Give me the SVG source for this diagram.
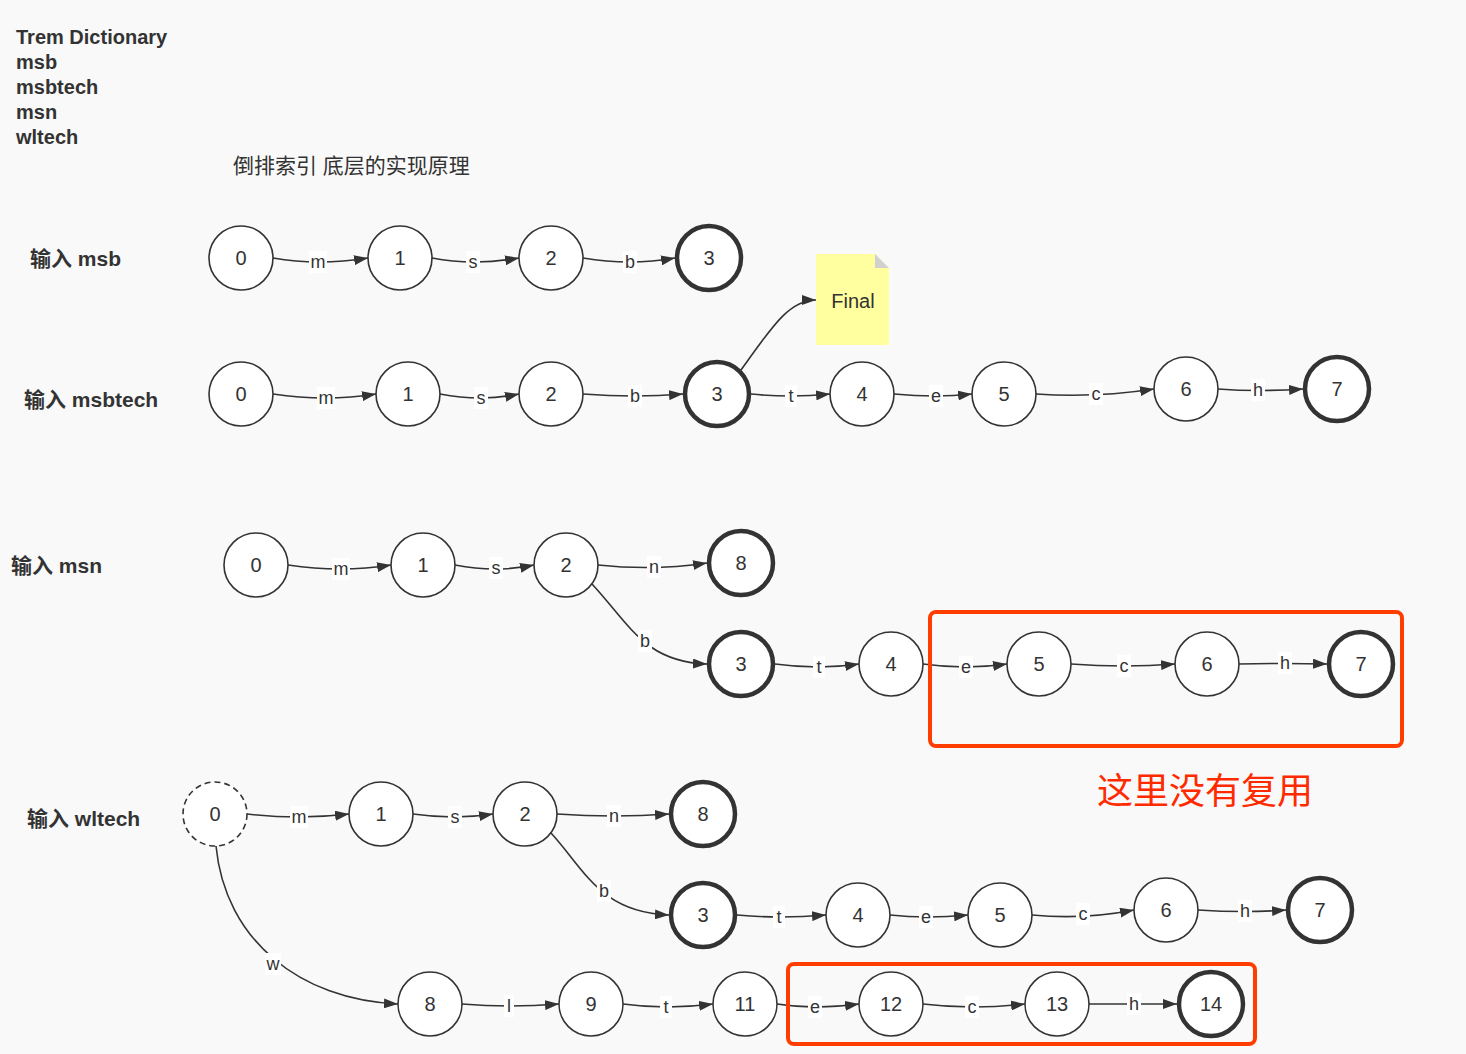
<svg xmlns="http://www.w3.org/2000/svg" width="1466" height="1054" viewBox="0 0 1466 1054">
<style>
.hd{font-family:"Liberation Sans","Noto Sans CJK SC",sans-serif;font-weight:bold;font-size:20px;fill:#333}
.in{font-family:"Liberation Sans","Noto Sans CJK SC",sans-serif;font-weight:bold;font-size:21px;fill:#333}
.sub{font-family:"Liberation Sans","Noto Sans CJK SC",sans-serif;font-size:21px;fill:#333}
.n circle{fill:#fff;stroke:#333;stroke-width:1.6}
.n.f circle{stroke-width:4.5}
.n.d circle{stroke-dasharray:6 4}
.n text{font-family:"Liberation Sans",Arial,sans-serif;font-size:20px;fill:#333;text-anchor:middle;dominant-baseline:central}
.e path{fill:none;stroke:#333;stroke-width:1.6;marker-end:url(#ah)}
.e rect{fill:#fff}
.e text{font-family:"Liberation Sans",Arial,sans-serif;font-size:18px;fill:#333;text-anchor:middle;dominant-baseline:central}
.box{fill:none;stroke:#ff3d00;stroke-width:4}
.red{font-family:"Noto Sans CJK SC",sans-serif;font-size:36px;fill:#ff2a00;text-anchor:middle;dominant-baseline:central}
</style>
<defs>
<marker id="ah" viewBox="0 0 14 10" refX="14" refY="5" markerWidth="14" markerHeight="10" markerUnits="userSpaceOnUse" orient="auto">
<path d="M0,0 L14,5 L0,10 z" fill="#333"/>
</marker>
</defs>
<rect width="1466" height="1054" fill="#f9f9f9"/>
<g id="header">
<text class="hd" x="16" y="44">Trem Dictionary</text>
<text class="hd" x="16" y="69">msb</text>
<text class="hd" x="16" y="94">msbtech</text>
<text class="hd" x="16" y="119">msn</text>
<text class="hd" x="16" y="144">wltech</text>
<text class="sub" x="233" y="173">倒排索引 底层的实现原理</text>
<text class="in" x="30" y="266">输入 msb</text>
<text class="in" x="24" y="407">输入 msbtech</text>
<text class="in" x="11" y="573">输入 msn</text>
<text class="in" x="27" y="826">输入 wltech</text>
</g>
<g id="connectors">
<g class="e">
<path d="M273,258 Q318,266 368,258"/>
<path d="M432,258 Q473,266 519,258"/>
<path d="M583,258 Q630,266 675,258"/>
<path d="M273,394 Q326,402 376,394"/>
<path d="M440,394 Q481,402 519,394"/>
<path d="M583,394 Q635,398 683,394"/>
<path d="M751,394 Q791,398 830,394"/>
<path d="M894,394 Q936,398 972,394"/>
<path d="M1036,394 Q1096,398 1154,389"/>
<path d="M1218,389 Q1258,392 1303,389"/>
<path d="M741,370 C770,330 788,300 816,300"/>
<path d="M288,565 Q341,573 391,565"/>
<path d="M455,565 Q496,573 534,565"/>
<path d="M598,565 Q654,571 707,563"/>
<path d="M592,584 C630,625 645,662 707,664"/>
<path d="M775,664 Q819,670 859,664"/>
<path d="M923,664 Q966,670 1007,664"/>
<path d="M1071,664 Q1124,668 1175,664"/>
<path d="M1239,664 Q1285,663 1327,664"/>
<path d="M247,814 Q299,820 349,814"/>
<path d="M413,814 Q455,820 493,814"/>
<path d="M557,814 Q614,818 669,814"/>
<path d="M551,833 C585,870 600,912 669,915"/>
<path d="M737,915 Q779,919 826,915"/>
<path d="M890,915 Q926,919 968,915"/>
<path d="M1032,915 Q1083,920 1134,910"/>
<path d="M1198,910 Q1245,913 1286,910"/>
<path d="M216,846 C225,940 300,1000 398,1004"/>
<path d="M462,1004 Q509,1008 559,1004"/>
<path d="M623,1004 Q666,1010 713,1004"/>
<path d="M777,1004 Q815,1010 859,1004"/>
<path d="M923,1004 Q972,1010 1025,1004"/>
<path d="M1089,1004 Q1134,1004 1177,1004"/>
</g>
<g class="e">
<rect x="309" y="251" width="18" height="22"/><text x="318" y="262">m</text>
<rect x="466" y="251" width="14" height="22"/><text x="473" y="262">s</text>
<rect x="623" y="251" width="14" height="22"/><text x="630" y="262">b</text>
<rect x="317" y="387" width="18" height="22"/><text x="326" y="398">m</text>
<rect x="474" y="387" width="14" height="22"/><text x="481" y="398">s</text>
<rect x="628" y="385" width="14" height="22"/><text x="635" y="396">b</text>
<rect x="785" y="385" width="12" height="22"/><text x="791" y="396">t</text>
<rect x="929" y="385" width="14" height="22"/><text x="936" y="396">e</text>
<rect x="1089" y="383" width="14" height="22"/><text x="1096" y="394">c</text>
<rect x="1251" y="379" width="14" height="22"/><text x="1258" y="390">h</text>
<rect x="332" y="558" width="18" height="22"/><text x="341" y="569">m</text>
<rect x="489" y="557" width="14" height="22"/><text x="496" y="568">s</text>
<rect x="647" y="556" width="14" height="22"/><text x="654" y="567">n</text>
<rect x="638" y="630" width="14" height="22"/><text x="645" y="641">b</text>
<rect x="813" y="656" width="12" height="22"/><text x="819" y="667">t</text>
<rect x="959" y="656" width="14" height="22"/><text x="966" y="667">e</text>
<rect x="1117" y="655" width="14" height="22"/><text x="1124" y="666">c</text>
<rect x="1278" y="652" width="14" height="22"/><text x="1285" y="663">h</text>
<rect x="290" y="806" width="18" height="22"/><text x="299" y="817">m</text>
<rect x="448" y="806" width="14" height="22"/><text x="455" y="817">s</text>
<rect x="607" y="805" width="14" height="22"/><text x="614" y="816">n</text>
<rect x="597" y="880" width="14" height="22"/><text x="604" y="891">b</text>
<rect x="773" y="906" width="12" height="22"/><text x="779" y="917">t</text>
<rect x="919" y="906" width="14" height="22"/><text x="926" y="917">e</text>
<rect x="1076" y="903" width="14" height="22"/><text x="1083" y="914">c</text>
<rect x="1238" y="900" width="14" height="22"/><text x="1245" y="911">h</text>
<rect x="265" y="953" width="16" height="22"/><text x="273" y="964">w</text>
<rect x="504" y="995" width="10" height="22"/><text x="509" y="1006">l</text>
<rect x="660" y="996" width="12" height="22"/><text x="666" y="1007">t</text>
<rect x="808" y="996" width="14" height="22"/><text x="815" y="1007">e</text>
<rect x="965" y="996" width="14" height="22"/><text x="972" y="1007">c</text>
<rect x="1127" y="993" width="14" height="22"/><text x="1134" y="1004">h</text>
</g>
</g>
<g id="r1n0" class="n"><circle cx="241" cy="258" r="32"/><text x="241" y="258">0</text></g>
<g id="r1n1" class="n"><circle cx="400" cy="258" r="32"/><text x="400" y="258">1</text></g>
<g id="r1n2" class="n"><circle cx="551" cy="258" r="32"/><text x="551" y="258">2</text></g>
<g id="r1n3" class="n f"><circle cx="709" cy="258" r="32"/><text x="709" y="258">3</text></g>
<g id="r2n0" class="n"><circle cx="241" cy="394" r="32"/><text x="241" y="394">0</text></g>
<g id="r2n1" class="n"><circle cx="408" cy="394" r="32"/><text x="408" y="394">1</text></g>
<g id="r2n2" class="n"><circle cx="551" cy="394" r="32"/><text x="551" y="394">2</text></g>
<g id="r2n3" class="n f"><circle cx="717" cy="394" r="32"/><text x="717" y="394">3</text></g>
<g id="r2n4" class="n"><circle cx="862" cy="394" r="32"/><text x="862" y="394">4</text></g>
<g id="r2n5" class="n"><circle cx="1004" cy="394" r="32"/><text x="1004" y="394">5</text></g>
<g id="r2n6" class="n"><circle cx="1186" cy="389" r="32"/><text x="1186" y="389">6</text></g>
<g id="r2n7" class="n f"><circle cx="1337" cy="389" r="32"/><text x="1337" y="389">7</text></g>
<g id="note-final">
<path d="M816,254 L875,254 L889,268 L889,345 L816,345 z" fill="#ffffa0"/>
<path d="M875,254 L889,268 L875,268 z" fill="#d0d0d0"/>
<text x="853" y="301" font-family="Liberation Sans,Arial,sans-serif" font-size="20" fill="#333" text-anchor="middle" dominant-baseline="central">Final</text>
</g>
<g id="r3n0" class="n"><circle cx="256" cy="565" r="32"/><text x="256" y="565">0</text></g>
<g id="r3n1" class="n"><circle cx="423" cy="565" r="32"/><text x="423" y="565">1</text></g>
<g id="r3n2" class="n"><circle cx="566" cy="565" r="32"/><text x="566" y="565">2</text></g>
<g id="r3n8" class="n f"><circle cx="741" cy="563" r="32"/><text x="741" y="563">8</text></g>
<g id="r3n3" class="n f"><circle cx="741" cy="664" r="32"/><text x="741" y="664">3</text></g>
<g id="r3n4" class="n"><circle cx="891" cy="664" r="32"/><text x="891" y="664">4</text></g>
<g id="r3n5" class="n"><circle cx="1039" cy="664" r="32"/><text x="1039" y="664">5</text></g>
<g id="r3n6" class="n"><circle cx="1207" cy="664" r="32"/><text x="1207" y="664">6</text></g>
<g id="r3n7" class="n f"><circle cx="1361" cy="664" r="32"/><text x="1361" y="664">7</text></g>
<g id="mark1">
<rect class="box" x="930" y="612" width="472" height="134" rx="6"/>
<text class="red" x="1205" y="788">这里没有复用</text>
</g>
<g id="r4n0" class="n d"><circle cx="215" cy="814" r="32"/><text x="215" y="814">0</text></g>
<g id="r4n1" class="n"><circle cx="381" cy="814" r="32"/><text x="381" y="814">1</text></g>
<g id="r4n2" class="n"><circle cx="525" cy="814" r="32"/><text x="525" y="814">2</text></g>
<g id="r4n8a" class="n f"><circle cx="703" cy="814" r="32"/><text x="703" y="814">8</text></g>
<g id="r4n3" class="n f"><circle cx="703" cy="915" r="32"/><text x="703" y="915">3</text></g>
<g id="r4n4" class="n"><circle cx="858" cy="915" r="32"/><text x="858" y="915">4</text></g>
<g id="r4n5" class="n"><circle cx="1000" cy="915" r="32"/><text x="1000" y="915">5</text></g>
<g id="r4n6" class="n"><circle cx="1166" cy="910" r="32"/><text x="1166" y="910">6</text></g>
<g id="r4n7" class="n f"><circle cx="1320" cy="910" r="32"/><text x="1320" y="910">7</text></g>
<g id="r4n8" class="n"><circle cx="430" cy="1004" r="32"/><text x="430" y="1004">8</text></g>
<g id="r4n9" class="n"><circle cx="591" cy="1004" r="32"/><text x="591" y="1004">9</text></g>
<g id="r4n11" class="n"><circle cx="745" cy="1004" r="32"/><text x="745" y="1004">11</text></g>
<g id="r4n12" class="n"><circle cx="891" cy="1004" r="32"/><text x="891" y="1004">12</text></g>
<g id="r4n13" class="n"><circle cx="1057" cy="1004" r="32"/><text x="1057" y="1004">13</text></g>
<g id="r4n14" class="n f"><circle cx="1211" cy="1004" r="32"/><text x="1211" y="1004">14</text></g>
<g id="mark2">
<rect class="box" x="788" y="964" width="467" height="80" rx="6"/>
</g>
</svg>
